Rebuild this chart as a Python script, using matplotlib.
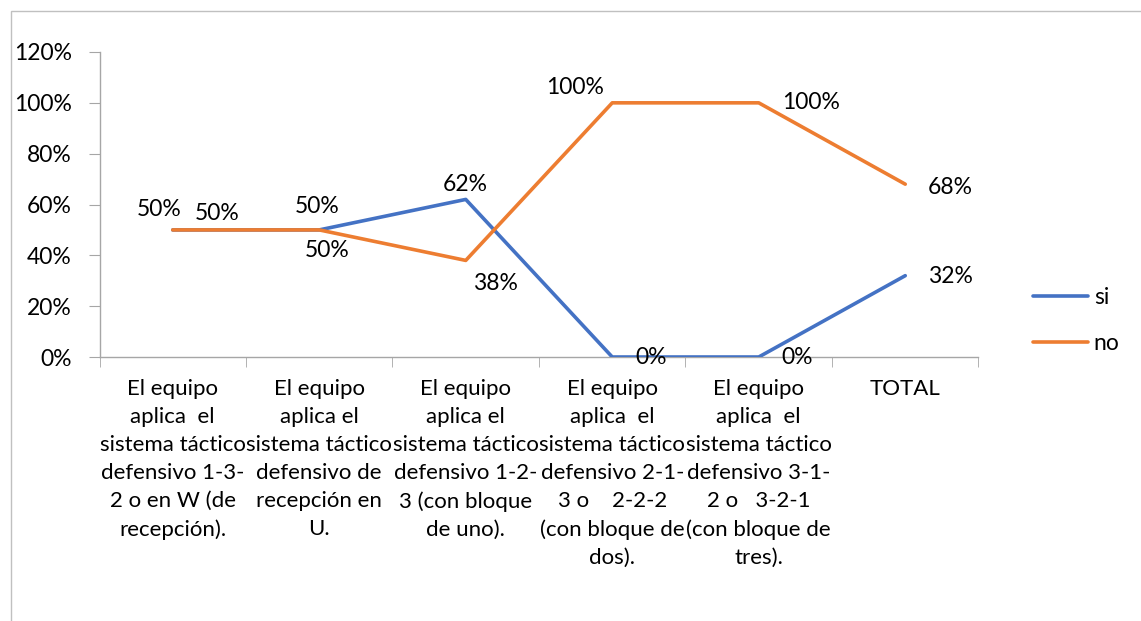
import matplotlib
matplotlib.use("Agg")
import matplotlib.pyplot as plt
from matplotlib.patches import Rectangle
import numpy as np

categories = [
    "El equipo\naplica  el\nsistema táctico\ndefensivo 1-3-\n2 o en W (de\nrecepción).",
    "El equipo\naplica el\nsistema táctico\ndefensivo de\nrecepción en\nU.",
    "El equipo\naplica el\nsistema táctico\ndefensivo 1-2-\n3 (con bloque\nde uno).",
    "El equipo\naplica  el\nsistema táctico\ndefensivo 2-1-\n3 o    2-2-2\n(con bloque de\ndos).",
    "El equipo\naplica  el\nsistema táctico\ndefensivo 3-1-\n2 o   3-2-1\n(con bloque de\ntres).",
    "TOTAL",
]
si = [0.50, 0.50, 0.62, 0.00, 0.00, 0.32]
no = [0.50, 0.50, 0.38, 1.00, 1.00, 0.68]
series_names = ["si", "no"]
yticks = [0.0, 0.2, 0.4, 0.6, 0.8, 1.0, 1.2]
ytick_labels = ["0%", "20%", "40%", "60%", "80%", "100%", "120%"]

# label offsets in pixels (dx, dy, ha)
si_offsets = [(-14, 20, "center"), (-2, 23, "center"), (0, 15, "center"),
              (23, -1, "left"), (23, -1, "left"), (23, -1, "left")]
no_offsets = [(22, 16, "left"), (8, -21, "center"), (30, -23, "center"),
              (-8, 15, "right"), (23, 0, "left"), (23, -3, "left")]

FONT = "Lato"
FS = 16.5
FS_CAT = 16
plt.rcParams["font.family"] = [FONT, "DejaVu Sans"]

W, H = 1141, 621
fig = plt.figure(figsize=(W / 100, H / 100), dpi=100)
ax = fig.add_axes([99.5 / W, 1 - 357 / H, (978.5 - 99.5) / W, (357 - 52) / H])

blue = "#4472C4"
orange = "#ED7D31"
x = np.arange(len(categories))
ax.plot(x, si, color=blue, lw=2.6, solid_capstyle="round", label=series_names[0], zorder=3)
ax.plot(x, no, color=orange, lw=2.6, solid_capstyle="round", label=series_names[1], zorder=3)

for xi, v, (dx, dy, ha) in zip(x, si, si_offsets):
    ax.annotate(f"{round(v*100)}%", (xi, v), xytext=(dx, dy), textcoords="offset pixels",
                ha=ha, va="center", fontsize=FS, color="#000000", annotation_clip=False)
for xi, v, (dx, dy, ha) in zip(x, no, no_offsets):
    ax.annotate(f"{round(v*100)}%", (xi, v), xytext=(dx, dy), textcoords="offset pixels",
                ha=ha, va="center", fontsize=FS, color="#000000", annotation_clip=False)

ax.set_xlim(-0.5, len(categories) - 0.5)
ax.set_ylim(0, 1.2)
ax.set_yticks(yticks)
ax.set_yticklabels(ytick_labels, fontsize=FS)
ax.set_xticks(x)
ax.set_xticklabels(categories, fontsize=FS_CAT, linespacing=1.5, va="top")
ax.set_xticks(np.arange(-0.5, len(categories), 1), minor=True)
ax.tick_params(axis="x", which="major", length=0, pad=16)
ax.tick_params(axis="x", which="minor", length=7, color="#a6a6a6", direction="out")
ax.tick_params(axis="y", length=8, color="#a6a6a6", pad=12)

for s in ["top", "right"]:
    ax.spines[s].set_visible(False)
for s in ["left", "bottom"]:
    ax.spines[s].set_color("#a6a6a6")
    ax.spines[s].set_linewidth(1.0)

fig.legend(loc="center left", bbox_to_anchor=(1033 / W, 1 - 320.5 / H), frameon=False,
           fontsize=FS, handlelength=2.4, handletextpad=0.25, labelspacing=1.12,
           borderpad=0, borderaxespad=0)

fig.patches.append(Rectangle((11 / W, -0.1), 2, 1 - 11 / H + 0.1, transform=fig.transFigure,
                             fill=False, edgecolor="#c0c0c0", lw=1.0))

fig.savefig("out.png", dpi=100)
